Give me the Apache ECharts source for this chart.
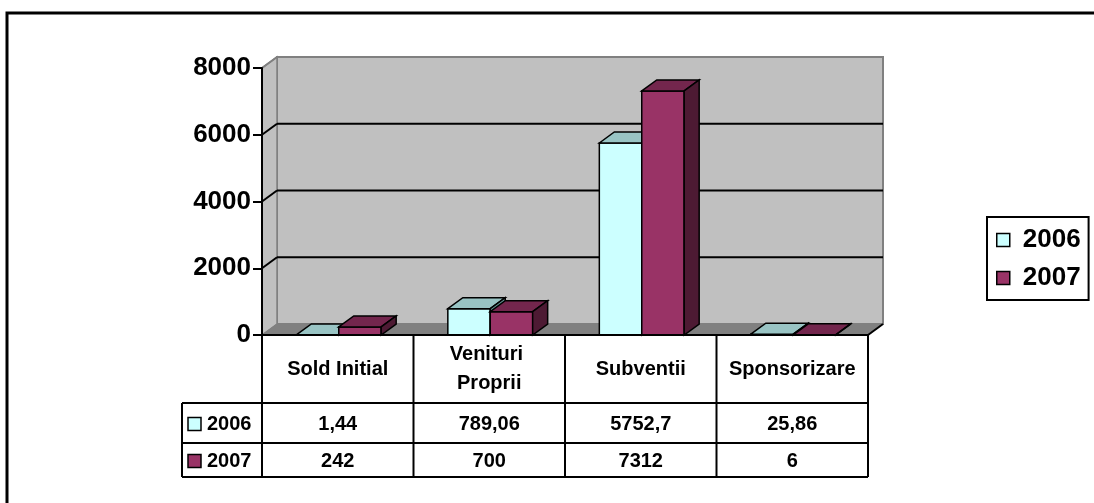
<!DOCTYPE html>
<html>
<head>
<meta charset="utf-8">
<script src="https://cdn.jsdelivr.net/npm/echarts@6/dist/echarts.min.js"></script>
<style>
html,body{margin:0;padding:0;background:#fff;}
#chart{width:1094px;height:503px;}
</style>
</head>
<body>
<div id="chart"></div>
<script>
//date
var categories = ['Sold Initial', 'Venituri Proprii', 'Subventii', 'Sponsorizare'];
var years = ['2006', '2007'];
var values2006 = [1.44, 789.06, 5752.7, 25.86];
var values2007 = [242, 700, 7312, 6];
var yTicks = [0, 2000, 4000, 6000, 8000];

//culori
var colors = {
    '2006': {front: '#CCFFFF', top: '#99C4C4', side: '#669999'},
    '2007': {front: '#993366', top: '#73264D', side: '#4D1A33'}
};
var FONT = '"Liberation Sans", Arial, sans-serif';
var GL = 262, GT = 68, GW = 606, GH = 267;   // zona graficului (plan frontal)
var DX = 15, DY = -11;                        // adancimea 3D

//fundal: perete, podea, linii de grila
function renderFrame(params, api) {
    var cs = params.coordSys;
    var L = cs.x, R = cs.x + cs.width, B = cs.y + cs.height;
    var v = api.value(1);
    var y = api.coord([0, v])[1];
    var max = yTicks[yTicks.length - 1];
    var children = [];
    if (params.dataIndex === 0) {
        children.push({type: 'rect', shape: {x: L + DX, y: cs.y + DY, width: cs.width, height: cs.height},
            style: {fill: '#C0C0C0', stroke: '#808080', lineWidth: 2}});
        children.push({type: 'polygon', shape: {points: [[L, B], [L + DX, B + DY], [L + DX, cs.y + DY], [L, cs.y]]},
            style: {fill: '#C0C0C0', stroke: '#808080', lineWidth: 1.5}});
        children.push({type: 'polygon', shape: {points: [[L, B], [R, B], [R + DX, B + DY], [L + DX, B + DY]]},
            style: {fill: '#808080', stroke: '#808080', lineWidth: 1}});
        children.push({type: 'line', shape: {x1: R, y1: B, x2: R + DX, y2: B + DY},
            style: {stroke: '#000', lineWidth: 2}});
    } else {
        children.push({type: 'line', shape: {x1: L, y1: y, x2: L + DX, y2: y + DY},
            style: {stroke: v === max ? '#808080' : '#000', lineWidth: 2}});
        if (v < max) {
            children.push({type: 'line', shape: {x1: L + DX, y1: y + DY, x2: R + DX, y2: y + DY},
                style: {stroke: '#000', lineWidth: 2}});
        }
    }
    return {type: 'group', children: children};
}

//coloane 3D
function renderBox(params, api) {
    var idx = api.value(0), v = api.value(1);
    var base = api.coord([idx, 0]);
    var top = api.coord([idx, v]);
    var band = api.size([1, 0])[0];
    var bw = band * 0.28;
    var c = colors[params.seriesName];
    var x0 = base[0] + (params.seriesName === '2006' ? -bw + 1 : 1);
    var x1 = x0 + bw, y0 = base[1], y1 = top[1];
    var st = {stroke: '#000', lineWidth: 1.5};
    return {type: 'group', children: [
        {type: 'rect', shape: {x: x0, y: y1, width: bw, height: y0 - y1}, style: Object.assign({fill: c.front}, st)},
        {type: 'polygon', shape: {points: [[x0, y1], [x0 + DX, y1 + DY], [x1 + DX, y1 + DY], [x1, y1]]}, style: Object.assign({fill: c.top}, st)},
        {type: 'polygon', shape: {points: [[x1, y1], [x1 + DX, y1 + DY], [x1 + DX, y0 + DY], [x1, y0]]}, style: Object.assign({fill: c.side}, st)}
    ]};
}

//tabelul de date
function fmt(v) { return String(v).replace('.', ','); }
function tableGraphics() {
    var els = [];
    var colW = GW / categories.length;
    var R = GL + GW, hTop = GT + GH, hBot = 403, rows = [403, 443, 477], left0 = 182;
    function line(x1, y1, x2, y2, w) {
        els.push({type: 'line', shape: {x1: x1, y1: y1, x2: x2, y2: y2}, style: {stroke: '#000', lineWidth: w || 2}, z: 20});
    }
    function text(x, y, t, align) {
        els.push({type: 'text', x: x, y: y, z: 20, style: {text: t, fill: '#000', font: 'bold 20px ' + FONT,
            align: align || 'center', verticalAlign: 'middle'}});
    }
    rows.forEach(function (y) { line(left0, y, R, y); });
    line(left0, hBot, left0, rows[2]);
    for (var i = 0; i <= categories.length; i++) line(GL + i * colW, hTop, GL + i * colW, rows[2]);
    var series = [values2006, values2007];
    years.forEach(function (yr, r) {
        var cy = (rows[r] + rows[r + 1]) / 2 + 1;
        els.push({type: 'rect', shape: {x: 188, y: cy - 6.5, width: 13, height: 13}, z: 20,
            style: {fill: colors[yr].front, stroke: '#000', lineWidth: 1.5}});
        text(207, cy, yr, 'left');
        series[r].forEach(function (v, c) { text(GL + (c + 0.5) * colW, cy, fmt(v)); });
    });
    //chenar exterior
    els.push({type: 'polyline', shape: {points: [[7, 503], [7, 13], [1094, 13]]}, style: {stroke: '#000', lineWidth: 3, fill: null}, z: 20});
    return els;
}

var myChart = echarts.init(document.getElementById('chart'));
var option = {
    animation: false,
    backgroundColor: '#fff',
    grid: {left: GL, top: GT, width: GW, height: GH, containLabel: false, outerBoundsMode: 'none'},
    legend: {
        data: years, orient: 'vertical', left: 987, top: 217,
        borderColor: '#000', borderWidth: 2, padding: [10, 8, 9, 9], itemGap: 12,
        icon: 'rect', itemWidth: 13, itemHeight: 13, itemStyle: {borderColor: '#000', borderWidth: 1.5},
        textStyle: {fontFamily: FONT, fontWeight: 'bold', fontSize: 26, color: '#000', padding: [0, 0, 0, 8]}
    },
    xAxis: {
        type: 'category', data: categories, z: 10,
        axisLine: {show: true, lineStyle: {color: '#000', width: 2}},
        axisTick: {show: false},
        axisLabel: {interval: 0, margin: 34, verticalAlign: 'middle', lineHeight: 29, width: 138, overflow: 'break',
            fontFamily: FONT, fontWeight: 'bold', fontSize: 20, color: '#000'}
    },
    yAxis: {
        type: 'value', min: 0, max: 8000, interval: 2000, z: 10,
        axisLine: {show: true, lineStyle: {color: '#000', width: 2}},
        axisTick: {show: true, length: 9, lineStyle: {color: '#000', width: 2}},
        axisLabel: {margin: 11, fontFamily: FONT, fontWeight: 'bold', fontSize: 26, color: '#000',
            formatter: function (v) { return String(v); }},
        splitLine: {show: false}
    },
    graphic: tableGraphics(),
    series: [
        {name: 'frame', type: 'custom', renderItem: renderFrame, silent: true, z: 1,
            encode: {x: 0, y: 1}, data: yTicks.map(function (v) { return [0, v]; })},
        {name: '2006', type: 'custom', renderItem: renderBox, z: 3, itemStyle: {color: colors['2006'].front},
            encode: {x: 0, y: 1}, data: values2006.map(function (v, i) { return [i, v]; })},
        {name: '2007', type: 'custom', renderItem: renderBox, z: 4, itemStyle: {color: colors['2007'].front},
            encode: {x: 0, y: 1}, data: values2007.map(function (v, i) { return [i, v]; })}
    ]
};
myChart.setOption(option);
</script>
</body>
</html>
